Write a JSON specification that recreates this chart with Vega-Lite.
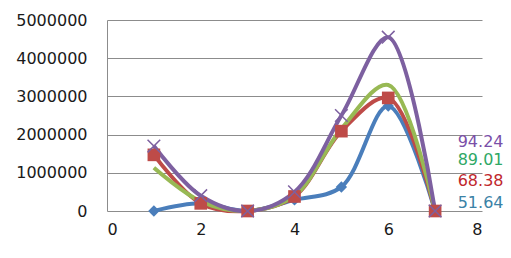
{
  "$schema": "https://vega.github.io/schema/vega-lite/v6.json",
  "width": 375,
  "height": 191,
  "autosize": {"type": "none"},
  "padding": {"left": 107, "top": 20, "right": 29, "bottom": 47},
  "background": "white",
  "config": {
    "view": {"stroke": null},
    "axis": {
      "labelFont": "DejaVu Sans",
      "labelFontSize": 16,
      "labelColor": "#1a1a1a",
      "labelOverlap": false,
      "ticks": false,
      "gridColor": "#8c8c8c",
      "gridWidth": 1,
      "domainColor": "#8c8c8c",
      "domainWidth": 1,
      "title": null
    }
  },
  "datasets": {
    "pts": [
      {"x": 1, "y": 0, "s": "a"},
      {"x": 2, "y": 200000, "s": "a"},
      {"x": 3, "y": 0, "s": "a"},
      {"x": 4, "y": 290000, "s": "a"},
      {"x": 5, "y": 630000, "s": "a"},
      {"x": 6, "y": 2750000, "s": "a"},
      {"x": 7, "y": 0, "s": "a"},
      {"x": 1, "y": 1470000, "s": "b"},
      {"x": 2, "y": 200000, "s": "b"},
      {"x": 3, "y": 0, "s": "b"},
      {"x": 4, "y": 380000, "s": "b"},
      {"x": 5, "y": 2090000, "s": "b"},
      {"x": 6, "y": 2960000, "s": "b"},
      {"x": 7, "y": 0, "s": "b"},
      {"x": 1, "y": 1130000, "s": "c"},
      {"x": 2, "y": 250000, "s": "c"},
      {"x": 3, "y": 0, "s": "c"},
      {"x": 4, "y": 400000, "s": "c"},
      {"x": 5, "y": 2150000, "s": "c"},
      {"x": 6, "y": 3300000, "s": "c"},
      {"x": 7, "y": 0, "s": "c"},
      {"x": 1, "y": 1700000, "s": "d"},
      {"x": 2, "y": 400000, "s": "d"},
      {"x": 3, "y": 0, "s": "d"},
      {"x": 4, "y": 500000, "s": "d"},
      {"x": 5, "y": 2500000, "s": "d"},
      {"x": 6, "y": 4550000, "s": "d"},
      {"x": 7, "y": 0, "s": "d"}
    ],
    "labels": [
      {"x": 7.97, "y": 1810000, "label": "94.24", "s": "ld"},
      {"x": 7.97, "y": 1340000, "label": "89.01", "s": "lc"},
      {"x": 7.97, "y": 790000, "label": "68.38", "s": "lb"},
      {"x": 7.97, "y": 210000, "label": "51.64", "s": "la"}
    ]
  },
  "encoding": {
    "x": {"field": "x", "type": "quantitative", "scale": {"domain": [0, 8], "nice": false},
      "axis": {"values": [0, 2, 4, 6, 8], "grid": false, "labelPadding": 10, "domain": false, "labelOverlap": false}},
    "y": {"field": "y", "type": "quantitative", "scale": {"domain": [0, 5000000], "nice": false},
      "axis": {"values": [0, 1000000, 2000000, 3000000, 4000000, 5000000], "format": "d", "labelPadding": 20, "grid": true, "labelOverlap": false}},
    "color": {"field": "s", "type": "nominal", "legend": null,
      "scale": {"domain": ["a", "b", "c", "d", "la", "lb", "lc", "ld"],
        "range": ["#4a7ebb", "#be4b48", "#98b954", "#7d60a0", "#3b82a6", "#c0272d", "#2fa866", "#7a4fa8"]}}
  },
  "layer": [
    {
      "data": {"name": "pts"},
      "mark": {"type": "line", "interpolate": "catmull-rom", "strokeWidth": 4, "clip": false},
      "encoding": {"detail": {"field": "s"}}
    },
    {
      "data": {"name": "pts"},
      "transform": [{"filter": "datum.s === 'a' || datum.s === 'b'"}],
      "mark": {"type": "point", "filled": true, "opacity": 1, "clip": false},
      "encoding": {
        "shape": {"field": "s", "type": "nominal", "legend": null,
          "scale": {"domain": ["a", "b"], "range": ["diamond", "square"]}},
        "size": {"field": "s", "type": "nominal", "legend": null,
          "scale": {"domain": ["a", "b"], "range": [130, 160]}}
      }
    },
    {
      "data": {"name": "pts"},
      "transform": [{"filter": "datum.s === 'd'"}],
      "mark": {"type": "point", "filled": false, "shape": "M-1,-1L1,1M1,-1L-1,1", "size": 160, "strokeWidth": 1.5, "opacity": 1, "clip": false}
    },
    {
      "data": {"name": "labels"},
      "mark": {"type": "text", "font": "DejaVu Sans", "fontSize": 16, "align": "center", "baseline": "middle", "clip": false},
      "encoding": {
        "text": {"field": "label"}
      }
    }
  ]
}
